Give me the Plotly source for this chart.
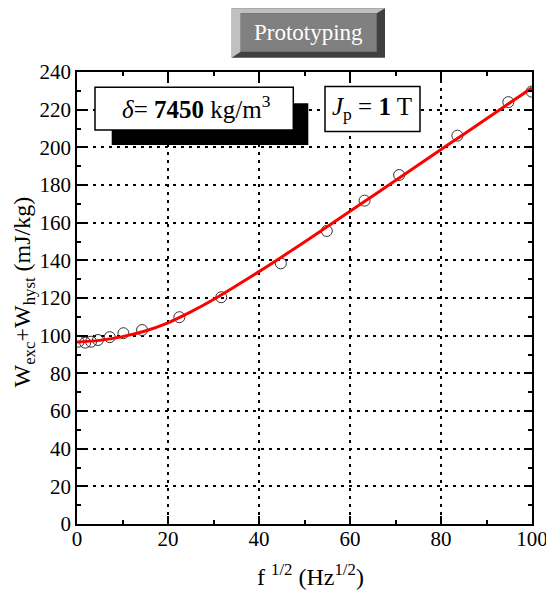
import plotly.graph_objects as go

# measured points
x_meas = [0.35, 1.8, 3.1, 4.6, 7.2, 10.2, 14.3, 22.5, 31.7, 44.8, 54.9, 63.2, 70.8, 83.6, 94.8, 99.9]
y_meas = [96.8, 96.3, 96.8, 97.7, 99.2, 101.3, 103.0, 109.8, 120.4, 138.4, 155.6, 171.7, 185.3, 206.2, 224.0, 229.6]

# fitted curve
x_fit = [0, 5, 10, 15, 20, 25, 30, 35, 40, 45, 50, 55, 60, 65, 70, 75, 80, 85, 90, 95, 100]
y_fit = [96.7, 97.5, 99.5, 102.5, 106.8, 112.6, 119.2, 126.5, 134.0, 141.8, 149.8, 157.9,
         166.0, 174.2, 182.4, 190.6, 198.8, 207.0, 215.2, 223.4, 231.6]

title_text = "Prototyping"
box1_text = "<i>δ</i>= <b>7450</b> kg/m<sup>3</sup>"
box2_text = "<i>J</i><sub>p</sub> = <b>1</b> T"
x_title = "f <sup>1/2</sup> (Hz<sup>1/2</sup>)"
y_title = "W<sub>exc</sub>+W<sub>hyst</sub> (mJ/kg)"

FONT = "'Liberation Serif', 'Times New Roman', 'DejaVu Serif', serif"
W, H = 546, 594
L, R, T, B = 77, 532, 72, 524


def px(xp):
    return (xp - L) / (R - L)


def py(yp):
    return (B - yp) / (B - T)


fig = go.Figure()
fig.add_trace(go.Scatter(x=x_meas, y=y_meas, mode="markers",
                         marker=dict(symbol="circle-open", size=11, color="#333333",
                                     line=dict(color="#333333", width=1)),
                         showlegend=False))
fig.add_trace(go.Scatter(x=x_fit, y=y_fit, mode="lines", line=dict(color="#ff0000", width=3),
                         line_shape="spline", showlegend=False))

axis_common = dict(
    showline=True, linecolor="black", linewidth=1.5, mirror="allticks",
    ticks="inside", ticklen=8, tickwidth=1.5, tickcolor="black",
    showgrid=True, gridcolor="black", gridwidth=2, griddash="3px,5px",
    zeroline=False, tickfont=dict(family=FONT, size=21, color="black"),
    ticklabeloverflow="allow", automargin=False,
    minor=dict(ticks="inside", ticklen=4, tickwidth=1.5, tickcolor="black", showgrid=False),
)
fig.update_xaxes(range=[0, 100], dtick=20, minor_dtick=10, ticklabelstandoff=-5, **axis_common)
fig.update_yaxes(range=[0, 240], dtick=20, minor_dtick=10, **axis_common)

shapes = []
# Prototyping bevel button
ox0, oy0, ox1, oy1 = 231.7, 8.3, 385, 57.7
ix0, iy0, ix1, iy1 = 240.7, 13.3, 376.7, 51.7
shapes.append(dict(type="rect", xref="paper", yref="paper", x0=px(ox0), x1=px(ox1), y0=py(oy1), y1=py(oy0),
                   fillcolor="#404040", line=dict(width=0), layer="above"))
path = "M {} {} L {} {} L {} {} L {} {} L {} {} L {} {} Z".format(
    px(ox0), py(oy0), px(ox1), py(oy0), px(ix1), py(iy0), px(ix0), py(iy0), px(ix0), py(iy1), px(ox0), py(oy1))
shapes.append(dict(type="path", xref="paper", yref="paper", path=path,
                   fillcolor="#c0c0c0", line=dict(width=0), layer="above"))
shapes.append(dict(type="rect", xref="paper", yref="paper", x0=px(ix0), x1=px(ix1), y0=py(iy1), y1=py(iy0),
                   fillcolor="#808080", line=dict(width=0), layer="above"))
# box 1 shadow + box
shapes.append(dict(type="rect", xref="paper", yref="paper", x0=px(111.7), x1=px(308.3), y0=py(145), y1=py(103.3),
                   fillcolor="black", line=dict(width=0), layer="above"))
shapes.append(dict(type="rect", xref="paper", yref="paper", x0=px(95), x1=px(293.3), y0=py(130), y1=py(87.3),
                   fillcolor="white", line=dict(color="black", width=1.5), layer="above"))
# box 2
shapes.append(dict(type="rect", xref="paper", yref="paper", x0=px(325), x1=px(420), y0=py(131.5), y1=py(86.5),
                   fillcolor="white", line=dict(color="black", width=1.5), layer="above"))

annotations = [
    dict(text=title_text, xref="paper", yref="paper", x=px(308.7), y=py(33), showarrow=False,
         xanchor="center", yanchor="middle", font=dict(family=FONT, size=23, color="white")),
    dict(text=box1_text, xref="paper", yref="paper", x=px(196), y=py(107), showarrow=False,
         xanchor="center", yanchor="middle", font=dict(family=FONT, size=25, color="black")),
    dict(text=box2_text, xref="paper", yref="paper", x=px(372), y=py(108), showarrow=False,
         xanchor="center", yanchor="middle", font=dict(family=FONT, size=25, color="black")),
    dict(text=x_title, xref="paper", yref="paper", x=px(310), y=py(575), showarrow=False,
         xanchor="center", yanchor="middle", font=dict(family=FONT, size=24, color="black")),
    dict(text=y_title, xref="paper", yref="paper", x=px(23.5), y=py(292), showarrow=False,
         textangle=-90, xanchor="center", yanchor="middle", font=dict(family=FONT, size=24, color="black")),
]

fig.update_layout(
    width=W, height=H, autosize=False,
    margin=dict(l=L, r=W - R, t=T, b=H - B, pad=0, autoexpand=False),
    paper_bgcolor="white", plot_bgcolor="white",
    font=dict(family=FONT),
    shapes=shapes, annotations=annotations, showlegend=False,
)

fig.write_html("out.html", config={"displayModeBar": False},
               post_script="document.body.style.margin='0';document.body.style.padding='0';")
